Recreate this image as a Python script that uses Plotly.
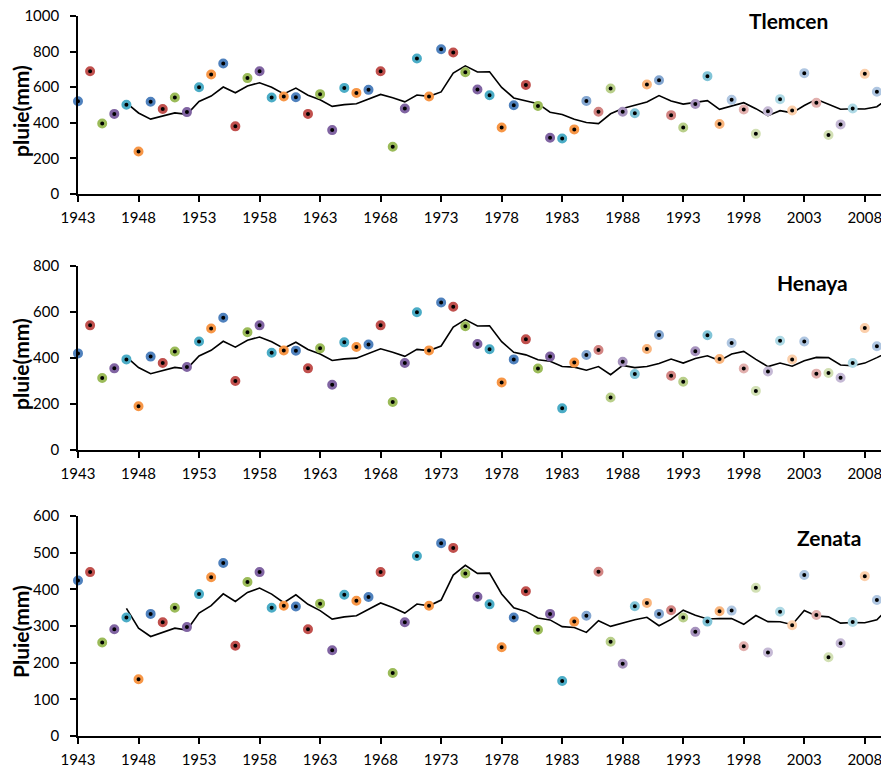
import plotly.graph_objects as go
import pandas as pd

years = list(range(1943, 2011))

tlemcen = [521, 690, 396, 450, 501, 239, 518, 478, 542, 460,
           600, 671, 733, 380, 651, 690, 542, 548, 544, 450,
           561, 359, 596, 568, 585, 690, 265, 480, 761, 548,
           813, 795, 684, 587, 555, 374, 499, 613, 495, 316,
           312, 363, 523, 462, 593, 462, 454, 615, 639, 443,
           374, 506, 662, 393, 529, 475, 338, 465, 533, 469,
           679, 512, 331, 391, 480, 675, 574, 587]

henaya = [420, 542, 313, 355, 394, 190, 406, 378, 428, 361,
          472, 528, 575, 300, 512, 542, 423, 433, 432, 355,
          442, 284, 468, 448, 459, 542, 209, 378, 599, 433,
          641, 623, 538, 461, 438, 294, 394, 481, 354, 406,
          181, 380, 413, 435, 228, 384, 330, 439, 500, 323,
          297, 429, 499, 396, 465, 354, 257, 341, 475, 394,
          472, 332, 335, 314, 378, 530, 451, 464]

zenata = [424, 447, 255, 291, 323, 155, 333, 310, 350, 297,
          387, 433, 472, 246, 420, 447, 350, 355, 353, 291,
          361, 234, 385, 369, 379, 447, 172, 310, 491, 355,
          526, 513, 443, 380, 359, 242, 323, 395, 290, 333,
          150, 312, 328, 448, 257, 197, 354, 363, 333, 343,
          323, 284, 312, 340, 342, 245, 404, 228, 339, 302,
          439, 330, 215, 253, 311, 436, 371, 382]

stations = ["Tlemcen", "Henaya", "Zenata"]
ytitles = ["pluie(mm)", "pluie(mm)", "Pluie(mm)"]
series = [tlemcen, henaya, zenata]
yranges = [[0, 1000], [0, 800], [0, 600]]
ydticks = [200, 200, 100]

# Excel-like "vary colors by point" palette
accents = ["#4F81BD", "#C0504D", "#9BBB59", "#8064A2", "#4BACC6", "#F79646"]


def tint(hexc, t):
    r, g, b = int(hexc[1:3], 16), int(hexc[3:5], 16), int(hexc[5:7], 16)
    r, g, b = [int(c + (255 - c) * t) for c in (r, g, b)]
    return "#%02X%02X%02X" % (r, g, b)


point_colors = []
for i in range(len(years)):
    base = accents[i % 6]
    if i < 42:
        point_colors.append(base)
    elif i < 54:
        point_colors.append(tint(base, 0.3))
    else:
        point_colors.append(tint(base, 0.55))

# page has an 8px body margin: figure drawn at (8, 8) in the 889x769 window
OFF = 8
W, H = 889 - OFF, 769 - OFF
L = 78 - OFF
PW = W - L
# plot-area pixel extents (top, bottom) in window pixels
panels_px = [(16, 194), (266, 450), (516, 736)]

fig = go.Figure()

for k, (name, vals) in enumerate(zip(stations, series)):
    xa = "x" if k == 0 else "x%d" % (k + 1)
    ya = "y" if k == 0 else "y%d" % (k + 1)
    # 5-year moving average (Excel trendline)
    mavg = pd.Series(vals).rolling(5).mean()
    fig.add_trace(go.Scatter(
        x=years, y=mavg, mode="lines",
        line=dict(color="black", width=1.6),
        xaxis=xa, yaxis=ya, showlegend=False, hoverinfo="skip",
    ))
    fig.add_trace(go.Scatter(
        x=years, y=vals, mode="markers", name=name,
        marker=dict(size=7, color="black",
                    line=dict(color=point_colors, width=3)),
        xaxis=xa, yaxis=ya, showlegend=False, cliponaxis=False,
    ))

layout = dict(
    width=W, height=H,
    margin=dict(l=L, r=0, t=0, b=0, autoexpand=False),
    paper_bgcolor="white", plot_bgcolor="white",
    font=dict(family="Lato, Open Sans, sans-serif", size=15, color="black"),
    showlegend=False,
)

annotations = []
for k in range(3):
    top, bot = panels_px[k]
    top -= OFF
    bot -= OFF
    dom = [1 - bot / H, 1 - top / H]
    xkey = "xaxis" if k == 0 else "xaxis%d" % (k + 1)
    ykey = "yaxis" if k == 0 else "yaxis%d" % (k + 1)
    anchor_y = "y" if k == 0 else "y%d" % (k + 1)
    anchor_x = "x" if k == 0 else "x%d" % (k + 1)
    layout[xkey] = dict(
        domain=[0, 1], anchor=anchor_y, range=[1943, 2010],
        tickmode="array", tickvals=list(range(1943, 2010, 5)),
        ticks="outside", ticklen=6, tickwidth=1.5, tickcolor="black",
        showline=True, linecolor="black", linewidth=1.6,
        showgrid=False, zeroline=False, ticklabelstandoff=3,
        automargin=False, ticklabeloverflow="allow",
    )
    layout[ykey] = dict(
        domain=dom, anchor=anchor_x, range=yranges[k],
        tickmode="array",
        tickvals=list(range(0, yranges[k][1] + 1, ydticks[k])),
        ticks="outside", ticklen=6, tickwidth=1.5, tickcolor="black",
        showline=True, linecolor="black", linewidth=1.6,
        showgrid=False, zeroline=False, ticklabelstandoff=8,
        automargin=False, ticklabeloverflow="allow",
    )
    # y-axis title
    annotations.append(dict(
        text="<b>%s</b>" % ytitles[k], textangle=-90,
        xref="paper", yref="paper",
        x=(20 - OFF - L) / PW, y=1 - ((top + bot) / 2 + 6) / H,
        xanchor="center", yanchor="middle", showarrow=False,
        font=dict(size=21, color="black"),
    ))

title_pos = [(788, 20), (812, 282), (829, 537)]
for k, name in enumerate(stations):
    px, py = title_pos[k]
    annotations.append(dict(
        text="<b>%s</b>" % name,
        xref="paper", yref="paper",
        x=(px - OFF - L) / PW, y=1 - (py - OFF) / H,
        xanchor="center", yanchor="middle", showarrow=False,
        font=dict(size=21, color="black"),
    ))

layout["annotations"] = annotations
fig.update_layout(**layout)
fig.write_html("out.html")
